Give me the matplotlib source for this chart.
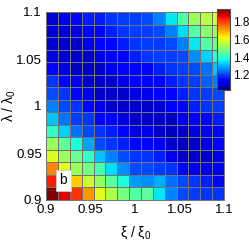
# Heat map of the ratio over xi/xi0 and lambda/lambda0

import matplotlib
matplotlib.use("Agg")
import matplotlib.pyplot as plt
import numpy as np

plt.rcParams['font.family'] = ['Liberation Sans', 'DejaVu Sans']
plt.rcParams['mathtext.fontset'] = 'custom'
plt.rcParams['mathtext.rm'] = 'Liberation Sans'

# rows from top (lambda/lambda0 = 1.1) to bottom (0.9), columns xi/xi0 0.9 -> 1.1
values = [
    [1.10, 1.12, 1.15, 1.17, 1.17, 1.19, 1.20, 1.20, 1.21, 1.26, 1.35, 1.44, 1.52, 1.55, 1.59],
    [1.10, 1.10, 1.11, 1.15, 1.15, 1.17, 1.19, 1.20, 1.20, 1.21, 1.26, 1.34, 1.44, 1.50, 1.53],
    [1.10, 1.09, 1.09, 1.12, 1.15, 1.15, 1.17, 1.19, 1.20, 1.20, 1.21, 1.26, 1.35, 1.44, 1.47],
    [1.11, 1.10, 1.09, 1.09, 1.12, 1.15, 1.15, 1.17, 1.19, 1.20, 1.20, 1.21, 1.27, 1.33, 1.40],
    [1.15, 1.11, 1.09, 1.09, 1.09, 1.12, 1.15, 1.15, 1.15, 1.17, 1.19, 1.20, 1.21, 1.25, 1.32],
    [1.19, 1.15, 1.12, 1.09, 1.09, 1.09, 1.11, 1.15, 1.15, 1.15, 1.17, 1.19, 1.20, 1.23, 1.26],
    [1.21, 1.19, 1.15, 1.12, 1.09, 1.09, 1.09, 1.11, 1.12, 1.15, 1.15, 1.17, 1.19, 1.20, 1.21],
    [1.26, 1.21, 1.19, 1.15, 1.12, 1.09, 1.09, 1.09, 1.09, 1.10, 1.13, 1.15, 1.17, 1.19, 1.20],
    [1.32, 1.25, 1.20, 1.19, 1.15, 1.15, 1.11, 1.09, 1.09, 1.09, 1.08, 1.12, 1.15, 1.15, 1.17],
    [1.40, 1.33, 1.25, 1.21, 1.19, 1.17, 1.15, 1.11, 1.12, 1.09, 1.08, 1.09, 1.11, 1.15, 1.15],
    [1.52, 1.45, 1.38, 1.29, 1.21, 1.19, 1.17, 1.15, 1.15, 1.12, 1.09, 1.08, 1.09, 1.11, 1.15],
    [1.59, 1.52, 1.47, 1.40, 1.32, 1.26, 1.21, 1.19, 1.19, 1.17, 1.12, 1.09, 1.09, 1.09, 1.11],
    [1.73, 1.60, 1.52, 1.48, 1.43, 1.34, 1.27, 1.21, 1.21, 1.20, 1.19, 1.15, 1.12, 1.12, 1.12],
    [1.83, 1.73, 1.66, 1.57, 1.51, 1.45, 1.38, 1.28, 1.27, 1.30, 1.24, 1.21, 1.19, 1.17, 1.15],
    [1.94, 1.86, 1.81, 1.71, 1.60, 1.54, 1.48, 1.44, 1.45, 1.35, 1.26, 1.21, 1.20, 1.19, 1.19],
]

x_ticks = [0.9, 0.95, 1, 1.05, 1.1]
y_ticks = [0.9, 0.95, 1, 1.05, 1.1]
cbar_ticks = [1.2, 1.4, 1.6, 1.8]
vmin, vmax = 1.03, 1.94
n_cells = 15


def main():
    z = np.array(values)[::-1]  # flip so row 0 is the bottom
    edges = np.linspace(0.9, 1.1, n_cells + 1)

    fig = plt.figure(figsize=(2.49, 2.50), dpi=100)
    ax = fig.add_axes([0.185, 0.2, 0.715, 0.752])
    mesh = ax.pcolormesh(edges, edges, z, cmap='jet', vmin=vmin, vmax=vmax,
                         edgecolors='0.45', linewidth=0.45)
    ax.set_xlim(0.9, 1.1)
    ax.set_ylim(0.9, 1.1)
    ax.set_xticks(x_ticks)
    ax.set_xticklabels([str(t) for t in x_ticks])
    ax.set_yticks(y_ticks)
    ax.set_yticklabels([str(t) for t in y_ticks])
    ax.tick_params(length=0, labelsize=9.5, pad=3)
    for s in ax.spines.values():
        s.set_color('0.45')
        s.set_linewidth(0.7)
    ax.set_xlabel('ξ / ξ$_\\mathregular{0}$', fontsize=10)
    ax.set_ylabel('λ / λ$_\\mathregular{0}$', fontsize=10)
    ax.xaxis.set_label_coords(0.5, -0.13)
    ax.yaxis.set_label_coords(-0.155, 0.5)

    ax.text(0.9195, 0.921, 'b', fontsize=10, ha='center', va='center',
            bbox=dict(boxstyle='square,pad=0.25', fc='white', ec='0.8', lw=0.6))

    cax = fig.add_axes([0.872, 0.64, 0.052, 0.324])
    cb = fig.colorbar(mesh, cax=cax, ticks=cbar_ticks)
    cb.ax.tick_params(length=0, labelsize=8.5, pad=2)
    cb.outline.set_edgecolor('0.3')
    cb.outline.set_linewidth(0.8)

    fig.savefig('out.png', dpi=100)


if __name__ == "__main__":
    main()
